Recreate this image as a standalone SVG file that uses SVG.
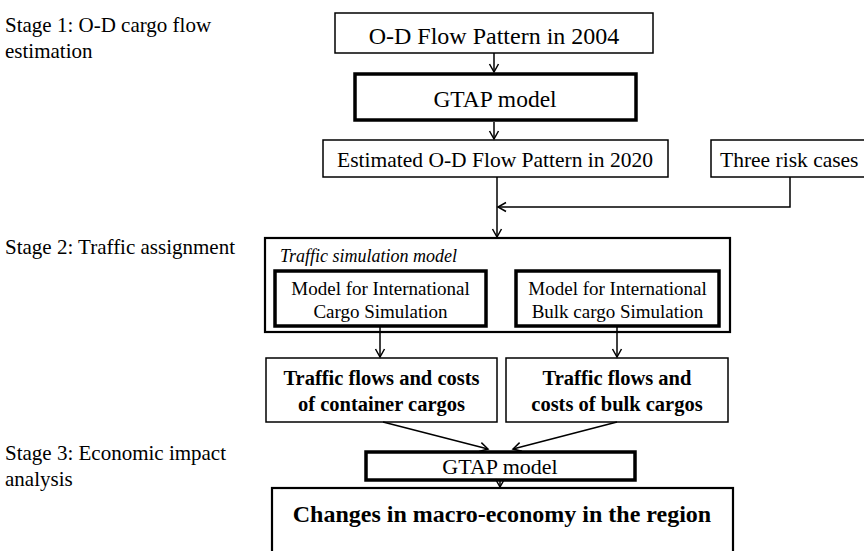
<svg xmlns="http://www.w3.org/2000/svg" width="864" height="551" viewBox="0 0 864 551">
<defs>
<marker id="arr" markerWidth="12" markerHeight="12" refX="9" refY="6" orient="auto" markerUnits="userSpaceOnUse">
<path d="M1,1.5 L9,6 L1,10.5" fill="none" stroke="#000" stroke-width="1.5"/>
</marker>
<style>
text{font-family:"Liberation Serif","Times New Roman",serif;fill:#000}
.box{fill:#fff;stroke:#000;stroke-width:1.5}
.thick{fill:#fff;stroke:#000;stroke-width:3.5}
.outer{fill:#fff;stroke:#000;stroke-width:2.2}
.lbl{font-size:21px}
.c{text-anchor:middle}
.b{font-weight:bold}
.conn{fill:none;stroke:#000;stroke-width:1.5}
</style>
</defs>
<rect width="864" height="551" fill="#fff"/>
<g id="stage-labels">
<text class="lbl" x="5" y="32">Stage 1: O-D cargo flow</text>
<text class="lbl" x="5" y="58">estimation</text>
<text class="lbl" x="5" y="254">Stage 2: Traffic assignment</text>
<text class="lbl" x="5" y="460">Stage 3: Economic impact</text>
<text class="lbl" x="5" y="486">analysis</text>
</g>
<g id="od2004">
<rect class="box" x="335" y="13" width="318" height="40"/>
<text class="c" x="494" y="44" font-size="24">O-D Flow Pattern in 2004</text>
</g>
<g id="gtap1">
<rect class="thick" x="355" y="74" width="281" height="46"/>
<text class="c" x="495" y="107" font-size="23.5">GTAP model</text>
</g>
<g id="od2020">
<rect class="box" x="323" y="140" width="345" height="37"/>
<text class="c" x="495" y="167" font-size="21.5">Estimated O-D Flow Pattern in 2020</text>
</g>
<g id="risk">
<rect class="box" x="711" y="140" width="160" height="37"/>
<text x="720" y="167" font-size="21.5">Three risk cases</text>
</g>
<g id="traffic-sim">
<rect class="outer" x="265" y="238" width="465" height="94"/>
<text x="280" y="262" font-size="18" font-style="italic">Traffic simulation model</text>
</g>
<g id="intl-cargo">
<rect class="thick" x="275" y="271" width="211" height="55"/>
<text class="c" x="380.5" y="295" font-size="19">Model for International</text>
<text class="c" x="380.5" y="318" font-size="19">Cargo Simulation</text>
</g>
<g id="bulk-cargo">
<rect class="thick" x="516" y="271" width="203" height="55"/>
<text class="c" x="617.5" y="295" font-size="19">Model for International</text>
<text class="c" x="617.5" y="318" font-size="19">Bulk cargo Simulation</text>
</g>
<g id="flows-container">
<rect class="box" x="266" y="358" width="231" height="64"/>
<text class="c b" x="381.5" y="385" font-size="20.5">Traffic flows and costs</text>
<text class="c b" x="381.5" y="411" font-size="20.5">of container cargos</text>
</g>
<g id="flows-bulk">
<rect class="box" x="506" y="358" width="222" height="64"/>
<text class="c b" x="617" y="385" font-size="20.5">Traffic flows and</text>
<text class="c b" x="617" y="411" font-size="20.5">costs of bulk cargos</text>
</g>
<g id="gtap2">
<rect class="thick" x="366" y="452" width="269" height="28"/>
<text class="c" x="500" y="474" font-size="22">GTAP model</text>
</g>
<g id="macro">
<rect class="outer" x="272" y="488" width="461" height="90"/>
<text class="c b" x="502" y="522" font-size="24">Changes in macro-economy in the region</text>
</g>
<g id="connectors">
<path class="conn" d="M494,53 V72" marker-end="url(#arr)"/>
<path class="conn" d="M494,122 V139" marker-end="url(#arr)"/>
<path class="conn" d="M497,177 V237" marker-end="url(#arr)"/>
<path class="conn" d="M790,177 V207 H498" marker-end="url(#arr)"/>
<path class="conn" d="M380,327 V357" marker-end="url(#arr)"/>
<path class="conn" d="M617,327 V357" marker-end="url(#arr)"/>
<path class="conn" d="M383,422 L488,449" marker-end="url(#arr)"/>
<path class="conn" d="M617,422 L513,449" marker-end="url(#arr)"/>
<path class="conn" d="M500,481 V487" marker-end="url(#arr)"/>
</g>
</svg>
